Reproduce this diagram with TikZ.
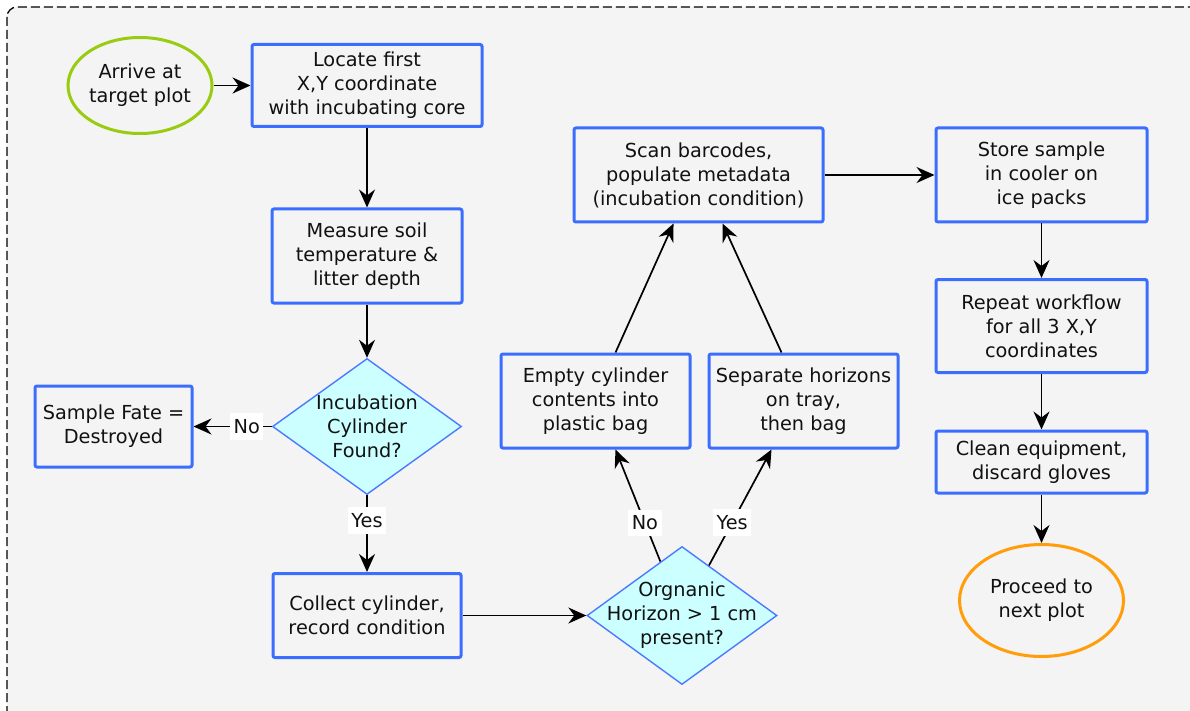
\documentclass[tikz,border=0pt]{standalone}
\usepackage{fontspec}
\setmainfont{DejaVu Sans}
\usetikzlibrary{shapes.geometric,arrows.meta}
\definecolor{bblue}{HTML}{3B6EFF}
\definecolor{dblue}{HTML}{4A7BFF}
\definecolor{bg}{HTML}{F4F4F4}
\definecolor{cyanf}{HTML}{CCFFFF}
\definecolor{gborder}{HTML}{99CC11}
\definecolor{oborder}{HTML}{FF9D0A}
\definecolor{txt}{HTML}{111111}
\tikzset{
  txtst/.style={align=center, text=txt, font=\fontsize{19.3}{24}\selectfont},
  box/.style={draw=bblue, line width=3, rounded corners=2, fill=bg, inner sep=0, txtst},
  dia/.style={diamond, draw=dblue, line width=1.4, fill=cyanf, inner sep=0},
  ell/.style={ellipse, line width=3, fill=bg, inner sep=0},
  arr/.style={-{Stealth[length=18pt,width=16pt,inset=6pt]}, line width=1.7, draw=black},
  lbl/.style={fill=white, inner xsep=3.5, inner ysep=6, txtst},
  frame/.style={draw=black, line width=1.3, dash pattern=on 9 off 4, fill=bg, rounded corners=10},
}
\begin{document}
\begin{tikzpicture}[x=1pt,y=-1pt]
\useasboundingbox (0,0) rectangle (1190,711);
\fill[white] (0,0) rectangle (1190,711);
\draw[frame] (7,7) rectangle (1210,730);

\node[ell, draw=gborder, minimum width=144, minimum height=96,
  label={[txtst]center:{Arrive at\\target plot}}] (arrive) at (140,85.5) {};
\node[box, minimum width=230, minimum height=82] (locate) at (367,85.5)
  {Locate first\\X,Y coordinate\\with incubating core};
\node[box, minimum width=190, minimum height=94] (measure) at (367,256)
  {Measure soil\\temperature \&\\litter depth};
\node[dia, minimum width=189, minimum height=136,
  label={[txtst]center:{Incubation\\Cylinder\\Found?}}] (inc) at (367,426.5) {};
\node[box, minimum width=157, minimum height=81] (fate) at (113.5,426.5)
  {Sample Fate =\\Destroyed};
\node[box, minimum width=188, minimum height=84] (collect) at (367,615.5)
  {Collect cylinder,\\record condition};
\node[dia, minimum width=190, minimum height=138,
  label={[txtst]center:{Orgnanic\\Horizon > 1 cm\\present?}}] (org) at (682,615.5) {};
\node[box, minimum width=189, minimum height=94] (empty) at (595.5,401)
  {Empty cylinder\\contents into\\plastic bag};
\node[box, minimum width=189, minimum height=94] (sep) at (803.5,401)
  {Separate horizons\\on tray,\\then bag};
\node[box, minimum width=249, minimum height=94] (scan) at (698.5,175)
  {Scan barcodes,\\populate metadata\\(incubation condition)};
\node[box, minimum width=211, minimum height=94] (store) at (1041.5,175)
  {Store sample\\in cooler on\\ice packs};
\node[box, minimum width=211, minimum height=93] (repeat) at (1041.5,326)
  {Repeat workflow\\for all 3 X,Y\\coordinates};
\node[box, minimum width=211, minimum height=62] (clean) at (1041.5,462)
  {Clean equipment,\\discard gloves};
\node[ell, draw=oborder, minimum width=164, minimum height=112,
  label={[txtst]center:{Proceed to\\next plot}}] (proceed) at (1041.5,600.5) {};

\draw[arr] (arrive) -- (locate);
\draw[arr] (locate) -- (measure);
\draw[arr] (measure) -- (inc);
\draw[arr] (inc) -- node[lbl, pos=0.32] {No} (fate);
\draw[arr] (inc) -- node[lbl, pos=0.33] {Yes} (collect);
\draw[arr] (collect) -- (org);
\draw[arr] (org) -- node[lbl, pos=0.345] {No} ([xshift=20]empty.south);
\draw[arr] (org) -- node[lbl, pos=0.37] {Yes} ([xshift=-32]sep.south);
\draw[arr] ([xshift=20]empty.north) -- ([xshift=-25]scan.south);
\draw[arr] ([xshift=-22]sep.north) -- ([xshift=24]scan.south);
\draw[arr] (scan) -- (store);
\draw[arr] (store) -- (repeat);
\draw[arr] (repeat) -- (clean);
\draw[arr] (clean) -- (proceed);
\end{tikzpicture}
\end{document}
